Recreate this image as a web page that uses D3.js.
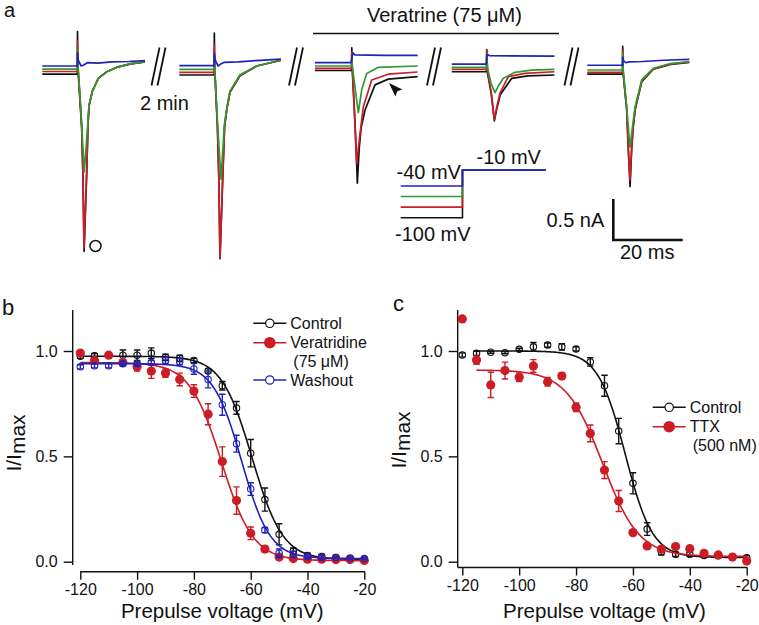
<!DOCTYPE html>
<html><head><meta charset="utf-8">
<script src="https://cdn.jsdelivr.net/npm/d3@7"></script>
<style>
body{margin:0;background:#fff}
svg{display:block}
text{font-family:"Liberation Sans",Arial,sans-serif;fill:#111}
</style>
</head><body>
<svg id="chart" width="759" height="625"></svg>
<script>
// ---------------- Panel a : current traces [time ms, current nA] ----------------
const s1k=[[0,-0.10],[10.12,-0.10],[10.15,0.42],[10.25,-0.1],[10.4,-0.12],[11.35,-0.75],[11.7,-1.3],[12.05,-2.26],[12.8,-1.3],[13.15,-0.73],[13.5,-0.48],[14.41,-0.31],[16.14,-0.15],[18.56,-0.07],[21.9,-0.01],[25.5,0.025],[29.6,0.05]];
const s1r=[[0,-0.067],[10.12,-0.067],[10.15,0.30],[10.25,-0.07],[10.4,-0.08],[11.35,-0.73],[11.7,-1.29],[12.02,-2.22],[12.8,-1.29],[13.15,-0.72],[13.5,-0.48],[14.41,-0.31],[16.14,-0.15],[18.56,-0.07],[21.9,-0.01],[25.5,0.025],[29.6,0.05]];
const s1g=[[0,-0.037],[10.12,-0.037],[10.16,0.2],[10.3,-0.03],[10.4,-0.05],[11.35,-0.72],[12.1,-1.29],[12.6,-1.0],[13.08,-0.72],[13.46,-0.475],[14.41,-0.31],[16.14,-0.15],[18.56,-0.07],[21.9,-0.01],[25.5,0.03],[29.6,0.052]];
const s1b=[[0,0],[10.12,0],[10.15,0.16],[10.3,0.08],[10.6,0.05],[11.2,0.0],[11.8,0.01],[13.0,0.04],[16,0.035],[20,0.05],[25,0.055],[29.6,0.065]];

const s2k=[[0,-0.11],[10.07,-0.11],[10.1,0.40],[10.2,-0.1],[10.3,-0.12],[11.0,-0.76],[11.4,-1.38],[11.73,-2.35],[12.5,-1.38],[13.05,-0.74],[13.7,-0.53],[14.61,-0.32],[17.49,-0.12],[22.3,0.0],[29.3,0.07]];
const s2r=[[0,-0.077],[10.07,-0.077],[10.1,0.26],[10.2,-0.08],[10.3,-0.1],[11.0,-0.75],[11.4,-1.38],[11.73,-2.34],[12.5,-1.38],[13.05,-0.73],[13.7,-0.52],[14.61,-0.31],[17.49,-0.11],[22.3,0.0],[29.3,0.07]];
const s2g=[[0,-0.04],[10.07,-0.04],[10.1,0.15],[10.2,-0.05],[11.05,-0.72],[12.02,-1.38],[12.97,-0.72],[13.66,-0.52],[14.61,-0.31],[17.49,-0.11],[22.3,0.0],[29.3,0.07]];
const s2b=[[0,0.004],[10.07,0.004],[10.1,0.155],[10.3,0.08],[10.6,0.05],[11.2,0.0],[11.8,0.02],[13,0.045],[17,0.05],[22,0.065],[29.3,0.085]];

const s3k=[[0,-0.055],[10.55,-0.055],[10.6,0.22],[10.75,-0.05],[11.3,-0.5],[11.85,-1.0],[12.2,-1.43],[12.75,-1.0],[13.3,-0.75],[14.4,-0.54],[17.3,-0.23],[21.1,-0.16],[29.6,-0.13]];
const s3r=[[0,-0.028],[10.55,-0.028],[10.6,0.17],[10.75,-0.03],[11.3,-0.5],[12.0,-1.19],[12.9,-0.85],[13.92,-0.5],[16.34,-0.17],[21.1,-0.10],[29.6,-0.073]];
const s3g=[[0,0],[10.55,0],[10.6,0.1],[10.8,-0.02],[12.48,-0.57],[13.45,-0.29],[14.9,-0.09],[18.24,-0.016],[29.6,0.0]];
const s3b=[[0,0.04],[10.4,0.04],[10.9,0.16],[11.5,0.135],[20,0.13],[29.6,0.13]];

const s4k=[[0,-0.07],[10.05,-0.07],[10.1,0.2],[10.3,-0.08],[11.41,-0.34],[12.3,-0.67],[13.0,-0.52],[14.0,-0.35],[17.3,-0.15],[22,-0.12],[29.6,-0.11]];
const s4r=[[0,-0.04],[10.05,-0.04],[10.1,0.195],[10.3,-0.05],[11.41,-0.33],[12.28,-0.65],[13.0,-0.5],[13.92,-0.33],[16.31,-0.13],[21.12,-0.089],[29.6,-0.07]];
const s4g=[[0,-0.016],[10.05,-0.016],[10.1,0.15],[10.3,-0.02],[11.33,-0.21],[12.48,-0.325],[13.5,-0.24],[14.87,-0.15],[18.24,-0.077],[23,-0.05],[29.6,-0.04]];
const s4b=[[0,0.024],[10.0,0.024],[10.15,0.14],[10.5,0.135],[11.0,0.125],[29.6,0.12]];

const s5k=[[0,-0.10],[10.17,-0.10],[10.2,0.24],[10.35,-0.1],[11.35,-0.53],[11.8,-1.0],[12.33,-1.47],[12.8,-1.0],[13.2,-0.76],[13.8,-0.53],[15.7,-0.19],[19.02,-0.04],[24,0.02],[29.4,0.045]];
const s5r=[[0,-0.077],[10.17,-0.077],[10.2,0.195],[10.35,-0.08],[11.35,-0.52],[11.8,-0.99],[12.31,-1.39],[12.79,-0.99],[13.2,-0.75],[13.8,-0.52],[15.7,-0.18],[19.02,-0.035],[24,0.025],[29.4,0.05]];
const s5g=[[0,-0.049],[10.17,-0.049],[10.2,0.15],[10.35,-0.05],[11.35,-0.5],[12.31,-0.99],[13.0,-0.75],[13.75,-0.50],[15.68,-0.17],[19.02,-0.028],[24,0.03],[29.4,0.052]];
const s5b=[[0,0.009],[10.17,0.009],[10.2,0.11],[10.5,0.06],[11.2,0.04],[12,0.05],[16,0.055],[22,0.07],[29.4,0.08]];

// voltage protocol (mV): prepulse levels and test pulse
const prepulseLevels=[-100,-80,-60,-40];
const testPulse=-10;
const prepulseDur=17.8, testDur=24;   // ms

// ---------------- Panel b / c : steady-state inactivation ----------------
const voltages=[-120,-115,-110,-105,-100,-95,-90,-85,-80,-75,-70,-65,-60,-55,-50,-45,-40,-35,-30,-25,-20];
const xTicks=[-120,-100,-80,-60,-40,-20];
const yTicks=[0,0.5,1.0];

const bControl=[0.975,0.978,0.98,0.98,0.98,0.99,0.97,0.965,0.955,0.905,0.835,0.73,0.515,0.295,0.13,0.05,0.03,0.025,0.02,0.015,0.012];
const bControlErr=[0.01,0.01,0.01,0.025,0.025,0.025,0.015,0.015,0.01,0.01,0.02,0.03,0.065,0.055,0.05,0.015,0.01,0.01,0.01,0.005,0.005];
const bVera=[0.99,0.955,0.98,0.945,0.925,0.905,0.895,0.865,0.81,0.70,0.475,0.29,0.135,0.06,0.022,0.015,0.012,0.012,0.01,0.01,0.006];
const bVeraErr=[0.01,0.01,0.01,0.015,0.02,0.035,0.02,0.03,0.03,0.05,0.07,0.065,0.03,0.015,0.01,0.005,0.005,0.005,0.005,0.005,0.005];
const bWash=[0.925,0.93,0.93,0.94,0.94,0.945,0.955,0.95,0.915,0.865,0.745,0.56,0.345,0.15,0.04,0.035,0.025,0.02,0.02,0.018,0.015];
const bWashErr=[0.01,0.01,0.01,0.01,0.01,0.01,0.015,0.015,0.025,0.04,0.05,0.04,0.03,0.012,0.02,0.015,0.01,0.01,0.005,0.005,0.005];

const cControl=[0.981,0.989,0.994,0.992,1.008,1.02,1.028,1.02,1.01,0.948,0.835,0.62,0.372,0.155,0.047,0.035,0.035,0.03,0.028,0.024,0.019];
const cControlErr=[0.01,0.01,0.005,0.005,0.005,0.02,0.01,0.015,0.01,0.02,0.05,0.06,0.05,0.03,0.015,0.01,0.01,0.008,0.008,0.008,0.01];
const cTTX=[1.152,0.957,0.839,0.907,0.875,0.929,0.854,0.881,0.733,0.609,0.435,0.288,0.138,0.075,0.06,0.072,0.062,0.04,0.032,0.022,0.003];
const cTTXErr=[0,0.02,0.06,0.04,0.02,0.03,0.02,0.015,0.02,0.04,0.04,0.05,0.01,0.01,0.01,0.01,0.01,0.01,0.01,0.01,0.01];

// Boltzmann fit parameters [top, bottom, V1/2, k, Vstart]
const fitBControl=[0.975,0.01,-59.5,5.4,-120];
const fitBVera=[0.945,0.005,-70.3,5.6,-120];
const fitBWash=[0.94,0.015,-63.2,5.0,-120];
const fitCControl=[1.0,0.02,-62.7,4.8,-115];
const fitCTTX=[0.91,0.025,-70.7,6.4,-115];

// ---------------- drawing ----------------
const BLACK="#111111", RED="#cc1d26", GREEN="#2e9a30", BLUE="#1f23b8";
const svg=d3.select("#chart");

// Panel a
const MSPX=3.47, NAPX=82, yZero=66;
const sweepX0=[42.3,179.3,315,451.7,587.3];
const sweeps=[[s1k,s1r,s1g,s1b],[s2k,s2r,s2g,s2b],[s3k,s3r,s3g,s3b],[s4k,s4r,s4g,s4b],[s5k,s5r,s5g,s5b]];
const traceColors=[BLACK,RED,GREEN,BLUE];
const yI=d3.scaleLinear().domain([0,-1]).range([yZero,yZero+NAPX]);
sweeps.forEach((tr,i)=>{
  const x=d3.scaleLinear().domain([0,1]).range([sweepX0[i],sweepX0[i]+MSPX]);
  const line=d3.line().x(d=>x(d[0])).y(d=>yI(d[1]));
  tr.forEach((data,j)=>{
    svg.append("path").attr("d",line(data)).attr("fill","none")
      .attr("stroke",traceColors[j]).attr("stroke-width",1.7).attr("stroke-linejoin","round");
  });
});
// open circle marker near first sweep peak
svg.append("circle").attr("cx",95.5).attr("cy",246).attr("r",5.5).attr("fill","none").attr("stroke",BLACK).attr("stroke-width",1.5);

// break marks //
[151.5,289,427,564.5].forEach(x=>{
  [0,6].forEach(o=>{
    svg.append("line").attr("x1",x+o).attr("y1",85.5).attr("x2",x+o+8).attr("y2",47.5)
      .attr("stroke",BLACK).attr("stroke-width",1.8);
  });
});
svg.append("text").attr("x",140).attr("y",110).attr("font-size",20).text("2 min");

// Veratrine bar
svg.append("line").attr("x1",313).attr("x2",559).attr("y1",33.5).attr("y2",33.5).attr("stroke",BLACK).attr("stroke-width",1.5);
svg.append("text").attr("x",367).attr("y",22).attr("font-size",20).text("Veratrine (75 \u03BCM)");

// arrowhead
svg.append("path").attr("d","M389,83 L402.4,89.4 L397.3,91.3 L395.4,96.4 Z").attr("fill",BLACK);

// protocol inset
const pX=d3.scaleLinear().domain([0,1]).range([400.7,400.7+MSPX]);
const pV=d3.scaleLinear().domain([-100,-40]).range([217.7,186]);
prepulseLevels.forEach((v,i)=>{
  const pts=[[0,v],[prepulseDur,v],[prepulseDur,testPulse],[prepulseDur+testDur,testPulse]];
  svg.append("path").attr("d",d3.line().x(d=>pX(d[0])).y(d=>pV(d[1]))(pts))
    .attr("fill","none").attr("stroke",traceColors[i]).attr("stroke-width",1.6);
});
svg.append("text").attr("x",396.5).attr("y",178.5).attr("font-size",20).text("-40 mV");
svg.append("text").attr("x",476.5).attr("y",163.5).attr("font-size",20).text("-10 mV");
svg.append("text").attr("x",395).attr("y",240.5).attr("font-size",20).text("-100 mV");

// scale bar
const sbX=613.3, sbY=240, sbMs=20, sbNA=0.5;
const sbW=sbMs*MSPX, sbH=yI(-sbNA)-yI(0);
svg.append("path").attr("d",`M${sbX},${sbY-sbH} L${sbX},${sbY} L${sbX+sbW},${sbY}`)
  .attr("fill","none").attr("stroke",BLACK).attr("stroke-width",2.6);
svg.append("text").attr("x",546.5).attr("y",227).attr("font-size",20).text("0.5 nA");
svg.append("text").attr("x",620).attr("y",258.5).attr("font-size",20).text("20 ms");

svg.append("text").attr("x",4).attr("y",17).attr("font-size",20).text("a");

// ---- I/Imax panels ----
function boltz(p,v){return p[1]+(p[0]-p[1])/(1+Math.exp((v-p[2])/p[3]));}

function panel(opt){
  const x=d3.scaleLinear().domain([-120,-20]).range(opt.xr);
  const y=d3.scaleLinear().domain([0,1]).range([561.7,351]);
  const g=svg.append("g");
  // y axis
  g.append("line").attr("x1",opt.yAxisX).attr("x2",opt.yAxisX).attr("y1",y(1.195)).attr("y2",opt.yAxisBottom)
    .attr("stroke",BLACK).attr("stroke-width",1.4);
  const ya=g.append("g").attr("transform",`translate(${opt.yAxisX},0)`)
    .call(d3.axisLeft(y).tickValues(yTicks).tickSize(9).tickPadding(6).tickFormat(d3.format(".1f")));
  ya.select(".domain").remove();
  ya.selectAll("line").attr("stroke",BLACK).attr("stroke-width",1.4);
  ya.selectAll("text").attr("font-size",16).style("font-family","'Liberation Sans',Arial,sans-serif").attr("fill","#111");
  // x axis
  g.append("line").attr("x1",opt.xAxisStart).attr("x2",x(-20)+0.7).attr("y1",opt.xAxisY).attr("y2",opt.xAxisY)
    .attr("stroke",BLACK).attr("stroke-width",1.4);
  const xa=g.append("g").attr("transform",`translate(0,${opt.xAxisY})`)
    .call(d3.axisBottom(x).tickValues(xTicks).tickSize(8).tickPadding(4).tickFormat(d=>String(d)));
  xa.select(".domain").remove();
  xa.selectAll("line").attr("stroke",BLACK).attr("stroke-width",1.4);
  xa.selectAll("text").attr("font-size",16).style("font-family","'Liberation Sans',Arial,sans-serif").attr("fill","#111");
  // titles
  g.append("text").attr("x",(opt.xr[0]+opt.xr[1])/2).attr("y",618).attr("text-anchor","middle").attr("font-size",20.5).text("Prepulse voltage (mV)");
  const yl=g.append("text").attr("transform",`translate(${opt.yAxisX-52},${opt.ylabelY}) rotate(-90)`).attr("text-anchor","middle").attr("font-size",21);
  yl.append("tspan").text("I/I");
  yl.append("tspan").attr("dy",4).text("max");
  g.append("text").attr("x",opt.labelX).attr("y",opt.labelY).attr("font-size",22).text(opt.label);

  // series
  opt.series.forEach(s=>{
    const vs=d3.range(s.fit[4],-19.99,0.5);
    g.append("path").attr("d",d3.line().x(v=>x(v)).y(v=>y(boltz(s.fit,v)))(vs))
      .attr("fill","none").attr("stroke",s.color).attr("stroke-width",1.6);
    const eb=g.append("g");
    voltages.forEach((v,i)=>{
      const e=s.err[i]; if(!e) return;
      const cx=x(v), y1=y(s.val[i]-e), y2=y(s.val[i]+e);
      eb.append("path").attr("d",`M${cx},${y1}L${cx},${y2}M${cx-3.2},${y1}L${cx+3.2},${y1}M${cx-3.2},${y2}L${cx+3.2},${y2}`)
        .attr("stroke",s.color).attr("stroke-width",1.4).attr("fill","none");
    });
    g.append("g").selectAll("circle").data(voltages).join("circle")
      .attr("cx",v=>x(v)).attr("cy",(v,i)=>y(s.val[i]))
      .attr("r",s.filled?4.6:3.2)
      .attr("fill",s.filled?s.color:"none").attr("stroke",s.color).attr("stroke-width",s.filled?0:1.1);
  });
  // legend
  opt.legend.forEach(l=>{
    g.append("line").attr("x1",l.x).attr("x2",l.x+33).attr("y1",l.y).attr("y2",l.y).attr("stroke",l.color).attr("stroke-width",1.6);
    g.append("circle").attr("cx",l.x+16.5).attr("cy",l.y).attr("r",l.filled?5.8:4.2)
      .attr("fill",l.filled?l.color:"#fff").attr("stroke",l.color).attr("stroke-width",l.filled?0:1.2);
    g.append("text").attr("x",l.x+37).attr("y",l.y+5.6).attr("font-size",16).text(l.text);
    if(l.sub) g.append("text").attr("x",l.x+40).attr("y",l.y+24.5).attr("font-size",16).text(l.sub);
  });
}

panel({
  xr:[80.3,364.3], yAxisX:72.7, yAxisBottom:565, xAxisY:571.7, xAxisStart:80.3,
  ylabelY:443, label:"b", labelX:2, labelY:315,
  series:[
    {val:bControl,err:bControlErr,fit:fitBControl,color:BLACK,filled:false},
    {val:bVera,err:bVeraErr,fit:fitBVera,color:RED,filled:true},
    {val:bWash,err:bWashErr,fit:fitBWash,color:BLUE,filled:false}
  ],
  legend:[
    {x:253.3,y:323.3,color:BLACK,filled:false,text:"Control"},
    {x:253.3,y:342.7,color:RED,filled:true,text:"Veratridine",sub:"(75 \u03BCM)"},
    {x:253.3,y:380,color:BLUE,filled:false,text:"Washout"}
  ]
});
panel({
  xr:[462.3,746.7], yAxisX:457.7, yAxisBottom:567.5, xAxisY:567.5, xAxisStart:457.7,
  ylabelY:440, label:"c", labelX:393, labelY:311,
  series:[
    {val:cControl,err:cControlErr,fit:fitCControl,color:BLACK,filled:false},
    {val:cTTX,err:cTTXErr,fit:fitCTTX,color:RED,filled:true}
  ],
  legend:[
    {x:652.7,y:407.3,color:BLACK,filled:false,text:"Control"},
    {x:652.7,y:426.7,color:RED,filled:true,text:"TTX",sub:"(500 nM)"}
  ]
});
</script>
</body></html>
